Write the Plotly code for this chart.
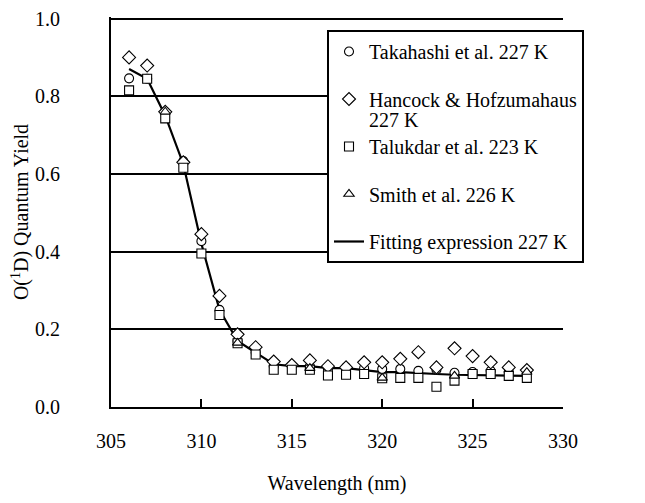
import plotly.graph_objects as go

wl = list(range(306, 329))

takahashi = [0.846, 0.845, 0.760, 0.633, 0.427, 0.250, 0.170, 0.140, 0.105, 0.105, 0.105, 0.097,
             0.102, 0.100, 0.098, 0.098, 0.093, 0.096, 0.088, 0.090, 0.093, 0.090, 0.090]
hancock = [0.900, 0.879, 0.760, 0.630, 0.445, 0.286, 0.187, 0.154, 0.117, 0.108, 0.120, 0.105,
           0.102, 0.115, 0.115, 0.124, 0.141, 0.102, 0.151, 0.131, 0.115, 0.102, 0.095]
talukdar = [0.815, 0.845, 0.743, 0.616, 0.395, 0.237, 0.164, 0.135, 0.096, 0.096, 0.096, 0.081,
            0.083, 0.085, 0.074, 0.075, 0.075, 0.052, 0.068, 0.085, 0.085, 0.080, 0.075]
smith_wl = [308, 312, 316, 320, 324, 328]
smith = [0.760, 0.165, 0.100, 0.075, 0.080, 0.090]
fit = [0.870, 0.845, 0.750, 0.625, 0.420, 0.250, 0.170, 0.140, 0.110, 0.105, 0.105, 0.100,
       0.100, 0.095, 0.090, 0.090, 0.087, 0.085, 0.083, 0.082, 0.082, 0.081, 0.080]

x_ticks = [305, 310, 315, 320, 325, 330]
y_ticks = [0.0, 0.2, 0.4, 0.6, 0.8, 1.0]

FONT = "Liberation Serif, Times New Roman, DejaVu Serif, serif"

L, R, T, B = 103, 90, 9, 104
PW = 645 - L - R
PH = 503 - T - B
YMAX = 1.004

fig = go.Figure()

fig.add_trace(go.Scatter(x=wl, y=fit, mode="lines", name="Fitting expression 227 K",
                         line=dict(color="black", width=2.2), legendrank=5, legendgroup="e"))

def mk(sym, size):
    return dict(symbol=sym, size=size, color="white", line=dict(color="black", width=1.1))

fig.add_trace(go.Scatter(x=wl, y=takahashi, mode="markers", name="Takahashi et al. 227 K",
                         marker=mk("circle", 9), legendrank=1, legendgroup="a"))
fig.add_trace(go.Scatter(x=wl, y=hancock, mode="markers", name="Hancock & Hofzumahaus",
                         marker=mk("diamond", 10), legendrank=2, legendgroup="b"))
fig.add_trace(go.Scatter(x=wl, y=talukdar, mode="markers", name="Talukdar et al. 223 K",
                         marker=mk("square", 9), legendrank=3, legendgroup="c"))
fig.add_trace(go.Scatter(x=smith_wl, y=smith, mode="markers", name="Smith et al. 226 K",
                         marker=mk("triangle-up", 9), legendrank=4, legendgroup="d"))

leg_left = 319
leg_top = 22
fig.update_layout(
    width=645, height=503,
    margin=dict(l=L, r=R, t=T, b=B, autoexpand=False),
    paper_bgcolor="white", plot_bgcolor="white",
    font=dict(family=FONT, size=20, color="black"),
    legend=dict(x=(leg_left - L) / PW, y=(503 - B - leg_top) / PH, xanchor="left", yanchor="top",
                bordercolor="black", borderwidth=2, bgcolor="white",
                font=dict(family=FONT, size=20), tracegroupgap=18.5, itemwidth=30),
    xaxis=dict(range=[305, 330], tickvals=x_ticks, ticks="inside", ticklen=8, tickwidth=2,
               tickcolor="black", showline=True, linecolor="black", linewidth=2,
               showgrid=False, zeroline=False, ticklabelstandoff=15,
               ticklabeloverflow="allow", automargin=False,
               title=dict(text="Wavelength (nm)", standoff=25, font=dict(size=20))),
    yaxis=dict(range=[0, YMAX], tickvals=y_ticks, tickformat=".1f", ticks="",
               showline=True, linecolor="black", linewidth=2,
               showgrid=True, gridcolor="black", gridwidth=2, zeroline=False,
               ticklabelstandoff=45, ticklabeloverflow="allow", automargin=False,
               title=dict(text="O(<sup>1</sup>D) Quantum Yield", standoff=10, font=dict(size=20))),
    annotations=[dict(text="227 K", xref="paper", yref="paper",
                      x=(leg_left + 40 - L) / PW, y=(503 - B - (leg_top + 90)) / PH,
                      xanchor="left", yanchor="middle", showarrow=False,
                      font=dict(family=FONT, size=20))],
)

fig.write_html("out.html")
